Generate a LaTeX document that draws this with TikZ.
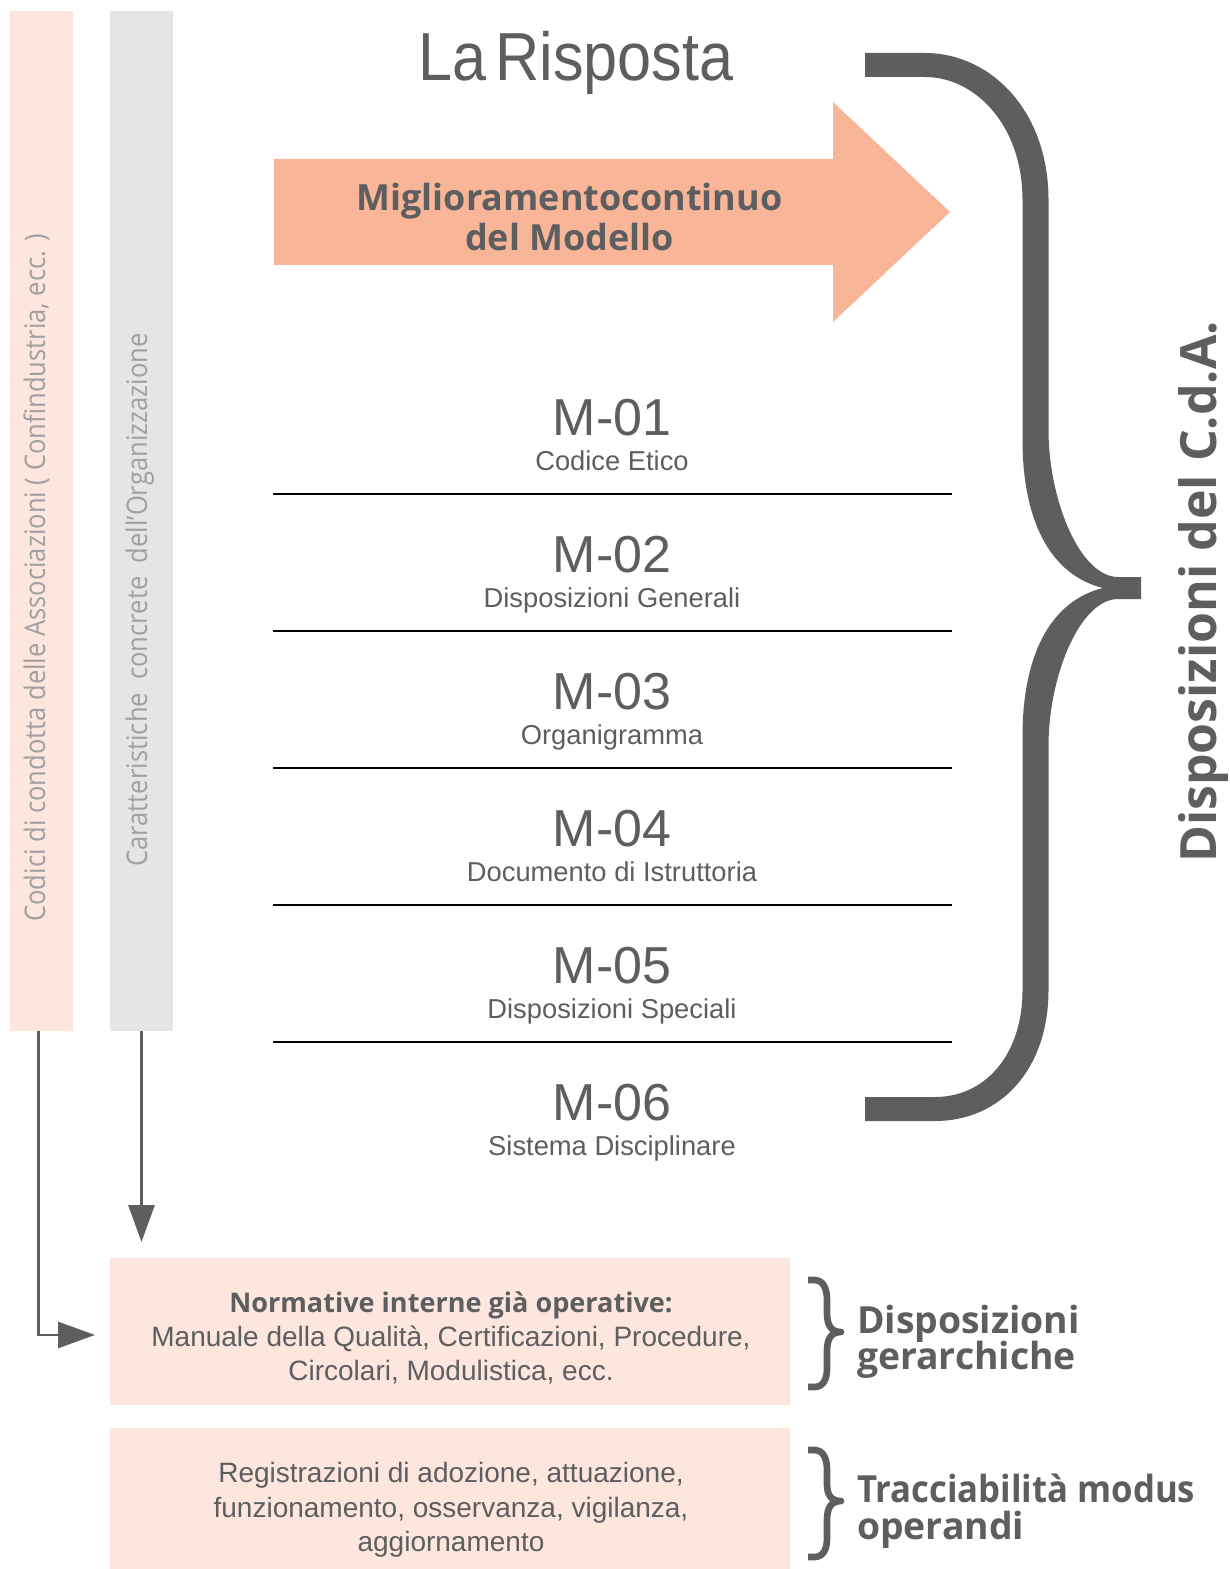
\documentclass[tikz,border=0pt]{standalone}
\usepackage{fontspec}
\setmainfont{Liberation Sans}
\newfontfamily\osans{Open Sans}
\newfontfamily\osanscond[FakeStretch=0.9]{Open Sans}
\newfontfamily\osansnarrow[FakeStretch=0.93]{Open Sans}
\newfontfamily\lsanscond[FakeStretch=0.9]{Liberation Sans}
\usetikzlibrary{arrows.meta}
\definecolor{peach}{HTML}{FDE6DD}
\definecolor{barGray}{HTML}{E5E5E5}
\definecolor{salmon}{HTML}{F9B598}
\definecolor{darkGray}{HTML}{5D5E60}
\definecolor{softGray}{HTML}{A0A0A0}
\tikzset{
  pxbox/.style 2 args={minimum width={#1*0.75pt}, minimum height={#2*0.75pt}, inner sep=0pt, outer sep=0pt, draw=none},
  txt/.style={inner sep=0pt, outer sep=0pt, text=darkGray},
  sepline/.style={draw=black, line width=1.7pt},
  link/.style={draw=darkGray, line width=2.2pt, -{Triangle[length=27.75pt,width=19.5pt]}},
  bracefill/.style={fill=darkGray},
  smallbrace/.style={draw=darkGray, line width=5pt, line join=round, line cap=butt},
  mnum/.style={txt, anchor=base, font=\fontsize{39pt}{44pt}\selectfont},
  msub/.style={txt, anchor=base, font=\fontsize{20.5pt}{24pt}\selectfont},
  boxtxt/.style={txt, anchor=base, font=\fontsize{21pt}{25pt}\selectfont},
  sidetxt/.style={txt, anchor=base west, font=\osans\bfseries\fontsize{28pt}{30pt}\selectfont},
  bartxt/.style={txt, text=softGray, rotate=90, anchor=base, font=\osanscond\fontsize{21.3pt}{25pt}\selectfont}
}
\begin{document}
\begin{tikzpicture}[x=0.75pt,y=-0.75pt]
\useasboundingbox (0,0) rectangle (1229,1569);
\fill[white] (0,0) rectangle (1229,1569);

% side bars
\node[pxbox={63}{1020}, fill=peach] (bar1) at (41.5,521) {};
\node[pxbox={63}{1020}, fill=barGray] (bar2) at (141.5,521) {};
\node[bartxt] (bar1txt) at (45,578) {Codici di condotta delle Associazioni ( Confindustria, ecc. )};
\node[bartxt] (bar2txt) at (147,600) {Caratteristiche\ \ concrete\ \ dell’Organizzazione};

% title
\node[txt, anchor=base, font=\lsanscond\fontsize{51pt}{56pt}\selectfont] (title) at (576,81) {La\hspace{-6pt} Risposta};

% big arrow
\fill[salmon] (274,159) -- (833,159) -- (833,102) -- (950,212) -- (833,322) -- (833,265) -- (274,265) -- cycle;
\node[txt, anchor=base, font=\osans\bfseries\fontsize{27pt}{30pt}\selectfont] (arr1) at (569.5,211) {Miglioramento\hspace{-7pt} continuo};
\node[txt, anchor=base, font=\osans\bfseries\fontsize{27pt}{30pt}\selectfont] (arr2) at (569.5,251) {del Modello};

% modules
\node[mnum] (m1) at (612,435) {M-01};
\node[msub] (s1) at (612,470) {Codice Etico};
\draw[sepline] (273,494) -- (952,494);
\node[mnum] (m2) at (612,572) {M-02};
\node[msub] (s2) at (612,607) {Disposizioni Generali};
\draw[sepline] (273,631) -- (952,631);
\node[mnum] (m3) at (612,709) {M-03};
\node[msub] (s3) at (612,744) {Organigramma};
\draw[sepline] (273,768) -- (952,768);
\node[mnum] (m4) at (612,846) {M-04};
\node[msub] (s4) at (612,881) {Documento di Istruttoria};
\draw[sepline] (273,905) -- (952,905);
\node[mnum] (m5) at (612,983) {M-05};
\node[msub] (s5) at (612,1018) {Disposizioni Speciali};
\draw[sepline] (273,1042) -- (952,1042);
\node[mnum] (m6) at (612,1120) {M-06};
\node[msub] (s6) at (612,1155) {Sistema Disciplinare};

% big brace
\path[bracefill] (865,53) -- (925,53)
  .. controls (990,53) and (1048.5,110) .. (1048.5,200)
  -- (1048.5,430)
  .. controls (1048.5,500) and (1080,577) .. (1118,577)
  -- (1141,577) -- (1141,599) -- (1118,599)
  .. controls (1080,599) and (1048.5,676) .. (1048.5,746)
  -- (1048.5,990)
  .. controls (1048.5,1070) and (1000,1121) .. (935,1121)
  -- (865,1121) -- (865,1097) -- (935,1097)
  .. controls (985,1097) and (1022.5,1055) .. (1022.5,990)
  -- (1022.5,736)
  .. controls (1022.5,656) and (1050,601) .. (1103,588)
  .. controls (1050,575) and (1022.5,520) .. (1022.5,440)
  -- (1022.5,200)
  .. controls (1022.5,125) and (975,77) .. (925,77)
  -- (865,77) -- cycle;
\node[txt, rotate=90, anchor=base, font=\osans\bfseries\fontsize{37.5pt}{42pt}\selectfont] (cda) at (1216,592) {Disposizioni del C.d.A.};

% bottom boxes
\node[pxbox={680}{147}, fill=peach] (box1) at (450,1331.5) {};
\node[pxbox={680}{141}, fill=peach] (box2) at (450,1498.5) {};
\node[boxtxt, font=\osans\bfseries\fontsize{20.3pt}{25pt}\selectfont] (b1l1) at (451,1312) {Normative interne già operative:};
\node[boxtxt] (b1l2) at (451,1346) {Manuale della Qualità, Certificazioni, Procedure,};
\node[boxtxt] (b1l3) at (451,1380) {Circolari, Modulistica, ecc.};
\node[boxtxt] (b2l1) at (451,1482) {Registrazioni di adozione, attuazione,};
\node[boxtxt] (b2l2) at (451,1517) {funzionamento, osservanza, vigilanza,};
\node[boxtxt] (b2l3) at (451,1551) {aggiornamento};

% connectors
\draw[link, shorten >=11.25pt] ([xshift=-2.6pt]bar1.south) |- ([yshift=-2.6pt]box1.west);
\draw[link, shorten >=12pt] (bar2.south) -- (bar2.south |- box1.north);

% small braces
\draw[smallbrace] (808,1280) -- (814,1280) .. controls (823,1280) and (827,1288) .. (827,1300) -- (827,1313)
  .. controls (827,1325) and (831,1332) .. (841,1332)
  .. controls (831,1332) and (827,1339) .. (827,1351) -- (827,1368)
  .. controls (827,1380) and (823,1387) .. (814,1387) -- (808,1387);
\draw[smallbrace] (808,1450) -- (814,1450) .. controls (823,1450) and (827,1458) .. (827,1470) -- (827,1484)
  .. controls (827,1495) and (831,1501) .. (841,1501)
  .. controls (831,1501) and (827,1508) .. (827,1520) -- (827,1538)
  .. controls (827,1550) and (823,1557) .. (814,1557) -- (808,1557);
\node[sidetxt] (g1) at (857,1333) {Disposizioni};
\node[sidetxt] (g2) at (857,1369) {gerarchiche};
\node[sidetxt, font=\osansnarrow\bfseries\fontsize{28pt}{30pt}\selectfont] (t1) at (857,1502) {Tracciabilità modus};
\node[sidetxt] (t2) at (857,1539) {operandi};
\end{tikzpicture}
\end{document}
